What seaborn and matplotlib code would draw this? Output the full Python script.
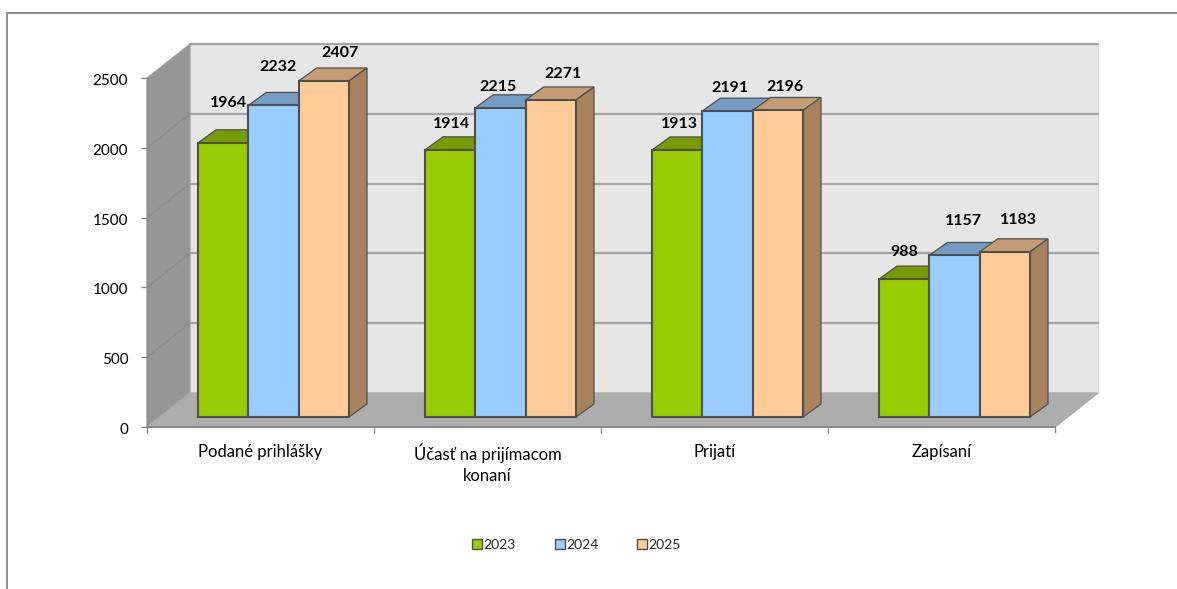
import matplotlib
matplotlib.use("Agg")
import matplotlib.pyplot as plt
from matplotlib.patches import Polygon
from matplotlib.lines import Line2D
from matplotlib.transforms import Affine2D, IdentityTransform
import pandas as pd
import seaborn as sns

categories = ["Podané prihlášky", "Účasť na prijímacom\nkonaní", "Prijatí", "Zapísaní"]
years = ["2023", "2024", "2025"]
values_2023 = [1964, 1914, 1913, 988]
values_2024 = [2232, 2215, 2191, 1157]
values_2025 = [2407, 2271, 2196, 1183]
y_ticks = [0, 500, 1000, 1500, 2000, 2500]

front_colors = ["#99CC00", "#99CCFF", "#FFCC99"]
top_colors = ["#759C00", "#759CC4", "#C49C75"]
side_colors = ["#6E9000", "#6E90B5", "#A8835F"]
EDGE = "#4f4f4f"

# pixel geometry of the fake 3D projection
W, H = 1177, 589
WALL_DX, WALL_DY = 43, 34      # depth of floor / side wall
BAR_DX, BAR_DY = 13, 10        # bars stand inside the floor
DEPTH_DX, DEPTH_DY = 18, 13    # depth of each bar
# nudges of the value labels relative to the bar top (pixels), per year then category
label_nudge = [
    [(5, 40), (1, 26), (2, 26), (0, 27)],
    [(5, 38), (-3, 21), (2, 23), (9, 34)],
    [(16, 28), (12, 26), (7, 23), (14, 32)],
]

sns.set_style("white")
plt.rcParams["font.family"] = ["Lato", "DejaVu Sans"]

df = pd.DataFrame({
    "category": categories * 3,
    "year": [y for y in years for _ in categories],
    "value": values_2023 + values_2024 + values_2025,
})

fig = plt.figure(figsize=(W / 100, H / 100), dpi=100, facecolor="white")
ax = fig.add_axes([147 / W, 1 - 427 / H, (1055 - 147) / W, (427 - 78) / H])
sns.barplot(data=df, x="category", y="value", hue="year", palette=front_colors,
            width=0.665, gap=0, dodge=True, saturation=1, errorbar=None, ax=ax, legend=True,
            edgecolor=EDGE, linewidth=1.5, zorder=5)
ax.set_xlim(-0.5, 3.5)
ax.set_ylim(0, 2500)
ax.set_xlabel("")
ax.set_ylabel("")
ax.patch.set_alpha(0)
fig.canvas.draw()

disp = ax.transData
def P(x, y, dx=0, dy=0):
    px, py = disp.transform((x, y))
    return (px + dx, py + dy)

idt = IdentityTransform()
def add_poly(pts, **kw):
    p = Polygon(pts, closed=True, transform=idt, clip_on=False, **kw)
    ax.add_patch(p)
    return p

# walls and floor
x0, x1 = -0.5, 3.5
add_poly([P(x0, 0, WALL_DX, WALL_DY), P(x1, 0, WALL_DX, WALL_DY),
          P(x1, 2500, WALL_DX, WALL_DY), P(x0, 2500, WALL_DX, WALL_DY)],
         facecolor="#E6E6E6", edgecolor="#DADADA", linewidth=1, zorder=0)
add_poly([P(x0, 0), P(x0, 0, WALL_DX, WALL_DY), P(x0, 2500, WALL_DX, WALL_DY), P(x0, 2500)],
         facecolor="#969696", edgecolor="#A0A0A0", linewidth=0.8, zorder=1)
add_poly([P(x0, 0), P(x1, 0), P(x1, 0, WALL_DX, WALL_DY), P(x0, 0, WALL_DX, WALL_DY)],
         facecolor="#ADADAD", edgecolor="#ADADAD", linewidth=1, zorder=1)
for t in y_ticks[1:]:
    ax.add_line(Line2D(*zip(P(x0, t, WALL_DX, WALL_DY), P(x1, t, WALL_DX, WALL_DY)),
                       transform=idt, color="#A4A4A4", lw=1.6, zorder=0.5, clip_on=False))
for t in y_ticks[1:-1]:
    ax.add_line(Line2D(*zip(P(x0, t), P(x0, t, WALL_DX, WALL_DY)),
                       transform=idt, color="#8A8A8A", lw=0.8, zorder=1.5, clip_on=False))

# bars: shift the fronts and add their tops and sides
shift = Affine2D().translate(BAR_DX, BAR_DY)
for yi, cont in enumerate(ax.containers):
    for ci, rect in enumerate(cont):
        rect.set_transform(ax.transData + shift)
        rect.set_clip_on(False)
        bx0, bx1 = rect.get_x(), rect.get_x() + rect.get_width()
        h = rect.get_height()
        a = P(bx0, h, BAR_DX, BAR_DY)
        b = P(bx1, h, BAR_DX, BAR_DY)
        c = P(bx1, 0, BAR_DX, BAR_DY)
        add_poly([a, b, (b[0] + DEPTH_DX, b[1] + DEPTH_DY), (a[0] + DEPTH_DX, a[1] + DEPTH_DY)],
                 facecolor=top_colors[yi], edgecolor=EDGE, linewidth=0.9, zorder=2)
        add_poly([b, (b[0] + DEPTH_DX, b[1] + DEPTH_DY), (c[0] + DEPTH_DX, c[1] + DEPTH_DY), c],
                 facecolor=side_colors[yi], edgecolor=EDGE, linewidth=0.9, zorder=2)
        nx, ny = label_nudge[yi][ci]
        cx = (a[0] + b[0]) / 2 + nx
        ax.text(cx, a[1] + ny, f"{int(h)}", transform=idt, ha="center", va="center",
                fontsize=11.5, fontweight="bold", color="black", zorder=8, clip_on=False)

# axes furniture
for s in ["top", "right"]:
    ax.spines[s].set_visible(False)
ax.spines["left"].set_color("#8C8C8C")
ax.spines["bottom"].set_color("#8C8C8C")
ax.spines["left"].set_linewidth(1)
ax.spines["bottom"].set_linewidth(1.5)
ax.set_yticks(y_ticks)
ax.set_xticks(range(len(categories)))
ax.set_xticklabels(categories, linespacing=1.35)
ax.set_xticks([i - 0.5 for i in range(len(categories) + 1)], minor=True)
ax.tick_params(axis="x", which="major", length=0, pad=12, labelsize=12, colors="black")
ax.tick_params(axis="x", which="minor", length=4.5, width=1, color="#8C8C8C", bottom=True)
ax.tick_params(axis="y", which="major", length=4.5, width=1, color="#8C8C8C", left=True,
               pad=9, labelsize=11, labelcolor="black")
for lab in ax.get_yticklabels():
    lab.set_transform(lab.get_transform() + Affine2D().translate(0, -1.5))

# legend
h, l = ax.get_legend_handles_labels()
ax.get_legend().remove()
leg = fig.legend(h, l, ncols=3, loc="center", bbox_to_anchor=(576.5 / W, 1 - 545 / H), frameon=False,
                 fontsize=10, handlelength=0.72, handleheight=0.72, handletextpad=0.1,
                 columnspacing=2.8, borderpad=0)
for hd in leg.legend_handles:
    hd.set_linewidth(1.0)

# chart frame
for pts in [[(7, H), (7, 13)], [(7, 13), (W, 13)]]:
    xs, ys = zip(*pts)
    fig.add_artist(Line2D([x / W for x in xs], [1 - y / H for y in ys],
                          transform=fig.transFigure, color="#8C8C8C", lw=1.4))

fig.savefig("out.png", dpi=100, facecolor="white")
